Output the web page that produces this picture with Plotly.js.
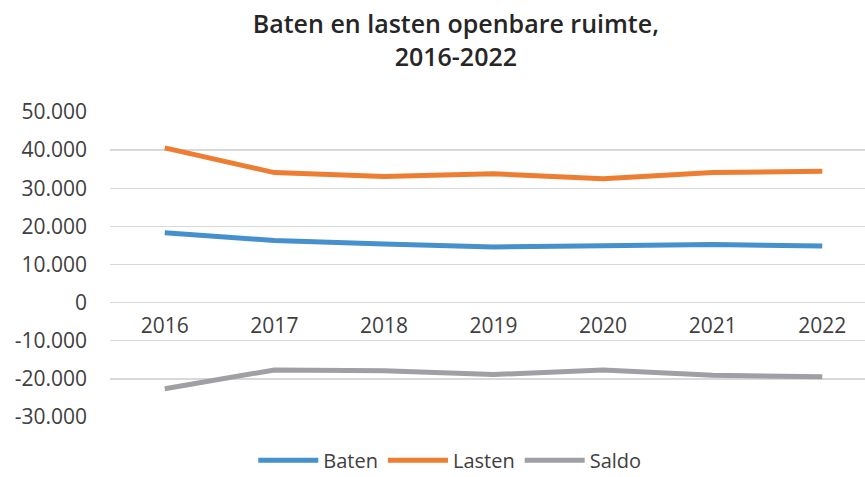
<!DOCTYPE html>
<html>
<head>
<meta charset="utf-8">
<script src="https://cdn.plot.ly/plotly-3.0.1.min.js"></script>
<style>html,body{margin:0;padding:0;background:#fff;}#chart{width:865px;height:477px;}</style>
</head>
<body>
<div id="chart"></div>
<script>
var years = ['2016', '2017', '2018', '2019', '2020', '2021', '2022'];
var baten = [18300, 16300, 15350, 14600, 14900, 15250, 14850];
var lasten = [40600, 34100, 33100, 33800, 32500, 34150, 34450];
var saldo = [-22600, -17650, -17900, -18850, -17700, -19050, -19450];
var yTickVals = [-30000, -20000, -10000, 0, 10000, 20000, 30000, 40000, 50000];
var yTickText = ['-30.000', '-20.000', '-10.000', '0', '10.000', '20.000', '30.000', '40.000', '50.000'];

var FONT = '"Open Sans", "DejaVu Sans", sans-serif';
function series(name, y, color) {
  return {
    type: 'scatter', mode: 'lines', name: name, x: years, y: y,
    line: {color: color, width: 5, shape: 'linear'},
    hoverinfo: 'skip'
  };
}
var data = [
  series('Baten', baten, '#4590CD'),
  series('Lasten', lasten, '#ED7D31'),
  series('Saldo', saldo, '#9EA0A3')
];
var layout = {
  width: 865, height: 477,
  margin: {l: 110, r: 0, t: 112, b: 60},
  paper_bgcolor: '#ffffff', plot_bgcolor: '#ffffff',
  font: {family: FONT, color: '#404040'},
  title: {
    text: 'Baten en lasten openbare ruimte,<br>2016-2022',
    font: {family: FONT, size: 25, color: '#262626', weight: 600},
    x: 0.527, xanchor: 'center', xref: 'container',
    y: 0.93, yanchor: 'top', yref: 'container'
  },
  xaxis: {
    type: 'category', range: [-0.5, 6.39],
    anchor: 'free', position: 0.375,
    showgrid: false, showline: false, zeroline: false, ticks: '',
    tickfont: {family: FONT, size: 21, color: '#404040'},
    ticklabelstandoff: 8, fixedrange: true
  },
  yaxis: {
    domain: [0, 1], range: [-30000, 50000],
    tickvals: yTickVals, ticktext: yTickText,
    showgrid: true, gridcolor: '#d9d9d9', gridwidth: 1.3,
    zeroline: true, zerolinecolor: '#d9d9d9', zerolinewidth: 1.3,
    showline: false, ticks: '',
    tickfont: {family: FONT, size: 21, color: '#404040'},
    ticklabelstandoff: 22, fixedrange: true
  },
  showlegend: true,
  legend: {
    orientation: 'h', x: 0.52, xanchor: 'center', xref: 'container',
    y: 0.035, yanchor: 'middle', yref: 'container',
    font: {family: FONT, size: 20, color: '#404040'},
    itemwidth: 60, tracegroupgap: 0
  }
};
Plotly.newPlot('chart', data, layout, {staticPlot: true, displayModeBar: false});
</script>
</body>
</html>
